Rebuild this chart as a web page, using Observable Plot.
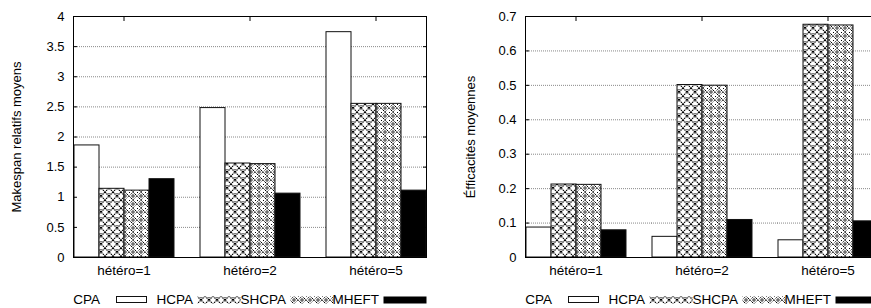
<!DOCTYPE html>
<html><head><meta charset="utf-8">
<script src="https://cdn.jsdelivr.net/npm/d3@7"></script>
<script src="https://cdn.jsdelivr.net/npm/@observablehq/plot@0.6"></script>
<style>
body{margin:0;background:#fff;width:871px;height:308px;overflow:hidden;position:relative;font-family:"Liberation Sans",Arial,sans-serif;}
.panel{position:absolute;top:0;}
.panel svg{max-width:none !important;}
.lt{position:absolute;font-size:13.5px;line-height:14px;text-align:right;white-space:nowrap;color:#000;}
.sw{position:absolute;}
</style></head><body>
<svg width="0" height="0" style="position:absolute">
<defs>
<pattern id="p-hcpa" width="8" height="8" patternUnits="userSpaceOnUse">
<rect width="8" height="8" fill="#fff"/>
<path d="M0,0L8,8M8,0L0,8" stroke="#000" stroke-width="1.2" stroke-dasharray="1.4,0.7" fill="none"/>
<rect x="3.5" y="1" width="1" height="1" fill="#000"/>
</pattern>
<pattern id="p-shcpa" width="8" height="8" patternUnits="userSpaceOnUse">
<rect width="8" height="8" fill="#fff"/>
<path d="M4,0L8,4L4,8L0,4Z" stroke="#000" stroke-width="1" stroke-dasharray="1,1" fill="none"/>
<path d="M4,1.6L6.4,4L4,6.4L1.6,4Z" fill="#858585"/>
<rect x="3.5" y="3.5" width="1" height="1" fill="#333"/>
<rect x="0" y="0" width="1" height="1" fill="#000"/>
<rect x="2" y="6" width="1" height="1" fill="#000"/>
<rect x="6" y="2" width="1" height="1" fill="#000"/>
</pattern>
</defs>
</svg>
<div id="left" class="panel" style="left:0;width:436px"></div>
<div id="right" class="panel" style="left:436px;width:453px"></div>
<div id="legends"></div>
<script>
const groups = ["hétéro=1", "hétéro=2", "hétéro=5"];
const algos = ["CPA", "HCPA", "SHCPA", "MHEFT"];
const fills = ["#fff", "url(#p-hcpa)", "url(#p-shcpa)", "#000"];

// Makespan relatifs moyens (left panel)
const makespanCPA   = [1.86, 2.48, 3.74];
const makespanHCPA  = [1.14, 1.56, 2.55];
const makespanSHCPA = [1.11, 1.55, 2.55];
const makespanMHEFT = [1.30, 1.06, 1.11];
const makespanTicks = [0, 0.5, 1, 1.5, 2, 2.5, 3, 3.5, 4];

// Éfficacités moyennes (right panel)
const effCPA   = [0.087, 0.060, 0.050];
const effHCPA  = [0.212, 0.501, 0.676];
const effSHCPA = [0.211, 0.499, 0.674];
const effMHEFT = [0.079, 0.109, 0.105];
const effTicks = [0, 0.1, 0.2, 0.3, 0.4, 0.5, 0.6, 0.7];

function chart(series, ticks, label, width, marginLeft, marginRight, labelOffset) {
  const rows = groups.flatMap((g, gi) => algos.map((a, ai) => ({group: g, algo: a, value: series[ai][gi]})));
  const yMax = ticks[ticks.length - 1];
  const grid = ticks.filter(t => t > 0 && t < yMax);
  const gridRows = groups.flatMap(g => grid.map(v => ({group: g, v})));
  const last = groups[groups.length - 1];
  const gridStyle = {stroke: "#888", strokeDasharray: "1,1"};
  return Plot.plot({
    width, height: 285,
    marginLeft, marginRight, marginTop: 16, marginBottom: 28,
    style: {fontFamily: "'Liberation Sans', Arial, sans-serif", fontSize: "13.5px", background: "white", color: "black", maxWidth: "none"},
    fx: {domain: groups, paddingInner: 0.2, paddingOuter: 0, label: null},
    x: {domain: algos, padding: 0, axis: null},
    y: {domain: [0, yMax]},
    color: {domain: algos, range: fills},
    marks: [
      Plot.ruleY(gridRows.filter(d => d.group !== last), {fx: "group", y: "v", insetRight: -26, ...gridStyle}),
      Plot.ruleY(gridRows.filter(d => d.group === last), {fx: "group", y: "v", ...gridStyle}),
      Plot.barY(rows, {fx: "group", x: "algo", y: "value", fill: "algo", stroke: "#111", strokeWidth: 1}),
      Plot.frame({facet: "super", stroke: "#000"}),
      Plot.axisY({anchor: "left", ticks, tickSize: 0, tickPadding: 9, tickFormat: d => String(d), label, labelAnchor: "center", labelOffset, labelArrow: "none", fontSize: "13px"}),
      Plot.axisY({anchor: "left", ticks, tickSize: -4, tickFormat: () => "", label: null}),
      Plot.axisY({anchor: "right", ticks, tickSize: -4, tickFormat: () => "", label: null}),
      Plot.axisFx({anchor: "bottom", tickSize: 0, tickPadding: 8, label: null}),
      Plot.axisFx({anchor: "top", tickSize: -4, tickFormat: () => "", label: null})
    ]
  });
}

document.getElementById("left").append(
  chart([makespanCPA, makespanHCPA, makespanSHCPA, makespanMHEFT], makespanTicks, "Makespan relatifs moyens", 436, 72, 10, 62));
document.getElementById("right").append(
  chart([effCPA, effHCPA, effSHCPA, effMHEFT], effTicks, "Éfficacités moyennes", 453, 88, 10, 60));

function legend(frameLeft) {
  const host = document.getElementById("legends");
  const ns = "http://www.w3.org/2000/svg";
  algos.forEach((a, i) => {
    const end = frameLeft + 28 + 93 * i;
    const t = document.createElement("div");
    t.className = "lt";
    t.textContent = a;
    t.style.left = (end - 80) + "px";
    t.style.width = "80px";
    t.style.top = "292.5px";
    host.append(t);
    const s = document.createElementNS(ns, "svg");
    s.setAttribute("class", "sw");
    const w = i === 0 ? 31 : 44;
    const h = i === 0 ? 7 : 8;
    s.setAttribute("width", w); s.setAttribute("height", h);
    s.style.left = (end + (i === 0 ? 16 : 4)) + "px";
    s.style.top = "296px";
    const r = document.createElementNS(ns, "rect");
    r.setAttribute("x", 0.5); r.setAttribute("y", 0.5);
    r.setAttribute("width", w - 1); r.setAttribute("height", h - 1);
    r.setAttribute("fill", fills[i]);
    r.setAttribute("stroke", i === 0 ? "#111" : "none");
    s.append(r);
    host.append(s);
  });
}
legend(72);
legend(524);
</script>
</body></html>
